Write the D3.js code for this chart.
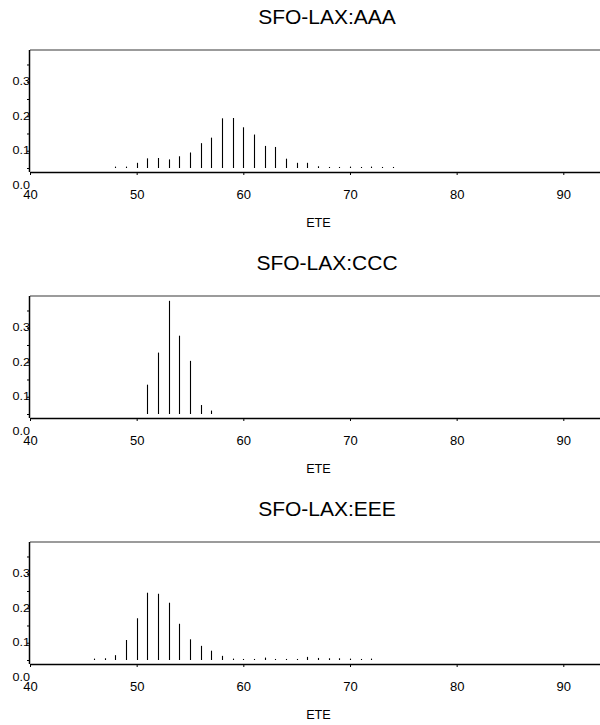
<!DOCTYPE html>
<html>
<head>
<meta charset="utf-8">
<script src="https://cdn.jsdelivr.net/npm/d3@7"></script>
<style>
  html, body { margin: 0; padding: 0; background: #fff; }
  svg { display: block; font-family: "Liberation Sans", Arial, sans-serif; }
</style>
</head>
<body>
<svg id="chart" width="600" height="725"></svg>
<script>
// ---- data ----
const titles = ["SFO-LAX:AAA", "SFO-LAX:CCC", "SFO-LAX:EEE"];
const xTickValues = [40, 50, 60, 70, 80, 90];
const yTickLabels = ["0.0", "0.1", "0.2", "0.3"];
const yTickLabelValues = [0, 0.1, 0.2, 0.3];
const xLabel = "ETE";

const aaaETE = [48, 49, 50, 51, 52, 53, 54, 55, 56, 57, 58, 59, 60, 61, 62, 63, 64, 65, 66, 67, 68, 69, 70, 71, 72, 73, 74];
const aaaProb = [0.004, 0.004, 0.015, 0.028, 0.029, 0.025, 0.034, 0.045, 0.072, 0.088, 0.144, 0.145, 0.118, 0.097, 0.064, 0.061, 0.027, 0.015, 0.015, 0.005, 0.003, 0.003, 0.004, 0.003, 0.004, 0.003, 0.003];

const cccETE = [51, 52, 53, 54, 55, 56, 57];
const cccProb = [0.085, 0.178, 0.328, 0.227, 0.154, 0.026, 0.010];

const eeeETE = [46, 47, 48, 49, 50, 51, 52, 53, 54, 55, 56, 57, 58, 59, 60, 61, 62, 63, 64, 65, 66, 67, 68, 69, 70, 71, 72];
const eeeProb = [0.004, 0.005, 0.014, 0.058, 0.121, 0.195, 0.192, 0.166, 0.105, 0.060, 0.041, 0.027, 0.012, 0.004, 0.003, 0.003, 0.007, 0.003, 0.003, 0.003, 0.009, 0.006, 0.005, 0.005, 0.004, 0.003, 0.004];

const seriesETE = [aaaETE, cccETE, eeeETE];
const seriesProb = [aaaProb, cccProb, eeeProb];

// ---- layout ----
const panelStep = 246;
const svg = d3.select("#chart");

const x = d3.scaleLinear().domain([40, 93.44]).range([30, 600]);
const y = d3.scaleLinear().domain([0, 0.342]).range([168, 50]);
const axisY = 172;

titles.forEach((title, i) => {
  const g = svg.append("g").attr("transform", `translate(0,${i * panelStep})`);

  // title
  g.append("text")
    .attr("x", 327).attr("y", 24)
    .attr("text-anchor", "middle")
    .attr("font-size", 21)
    .attr("fill", "#000")
    .text(title);

  // top border
  g.append("line")
    .attr("x1", x(40)).attr("x2", 600)
    .attr("y1", y(0.342)).attr("y2", y(0.342))
    .attr("stroke", "#7a7a7a").attr("stroke-width", 1.5);

  // left axis line
  g.append("line")
    .attr("x1", x(40) - 0.5).attr("x2", x(40) - 0.5)
    .attr("y1", y(0.342)).attr("y2", axisY)
    .attr("stroke", "#000").attr("stroke-width", 1.5);

  // y minor ticks
  const yAxis = d3.axisLeft(y)
    .tickValues([0, 0.05, 0.1, 0.15, 0.2, 0.25, 0.3])
    .tickSize(2.5).tickFormat("");
  const ya = g.append("g").attr("transform", `translate(${x(40) - 0.5},0)`).call(yAxis);
  ya.select(".domain").remove();
  ya.selectAll(".tick line").attr("stroke", "#000");

  // y labels (drawn slightly below their tick, as in the reference)
  yTickLabelValues.forEach((v, k) => {
    const cy = y(v) + 17;
    g.append("text")
      .attr("transform", `translate(${x(40)},${cy + 3.8}) scale(1.2,1)`)
      .attr("text-anchor", "end")
      .attr("font-size", 10.5)
      .attr("fill", "#000")
      .text(yTickLabels[k]);
  });

  // bars
  g.append("g").selectAll("line")
    .data(seriesETE[i].map((e, k) => ({ e, p: seriesProb[i][k] })))
    .join("line")
    .attr("x1", d => Math.round(x(d.e)) + 0.5)
    .attr("x2", d => Math.round(x(d.e)) + 0.5)
    .attr("y1", y(0))
    .attr("y2", d => y(d.p))
    .attr("stroke", "#000")
    .attr("stroke-width", 1.1);

  // x axis
  const xAxis = d3.axisBottom(x)
    .tickValues(xTickValues)
    .tickSize(3).tickSizeOuter(0).tickPadding(15)
    .tickFormat(d3.format("d"));
  const xa = g.append("g").attr("transform", `translate(0,${axisY})`).call(xAxis);
  xa.select(".domain").attr("stroke", "#000").attr("stroke-width", 1.6);
  xa.selectAll(".tick line").attr("stroke", "#000");
  xa.selectAll(".tick text")
    .attr("font-size", 13)
    .attr("font-family", "'Liberation Sans', Arial, sans-serif")
    .attr("fill", "#000");

  // x label
  g.append("text")
    .attr("x", 318.5).attr("y", 226.5)
    .attr("text-anchor", "middle")
    .attr("font-size", 12.7)
    .attr("fill", "#000")
    .text(xLabel);
});
</script>
</body>
</html>
